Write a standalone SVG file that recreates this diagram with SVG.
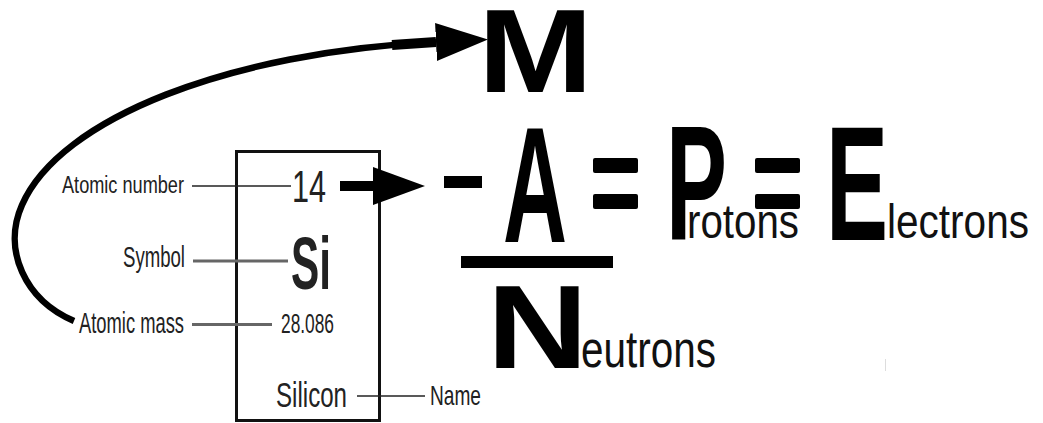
<svg xmlns="http://www.w3.org/2000/svg" width="1043" height="423" viewBox="0 0 1043 423">
<style>
.lbl{font-family:"Liberation Sans Narrow","Liberation Sans",Arial,sans-serif;fill:#222}
.big{font-family:"Liberation Sans",Arial,sans-serif;font-weight:bold;fill:#000}
.word{font-family:"Liberation Sans Narrow","Liberation Sans",Arial,sans-serif;fill:#111}
.lead{stroke:#222;stroke-width:1.6;fill:none}
.leadg{stroke:#666;stroke-width:3;fill:none}
.bar{fill:#000}
</style>
<defs>
<marker id="head" markerUnits="userSpaceOnUse" markerWidth="53" markerHeight="40" refX="0" refY="19" orient="auto" viewBox="0 0 53 40">
<path d="M0,0 L52,19 L0,38 Z" fill="#000"/>
</marker>
</defs>
<rect width="1043" height="423" fill="#fff"/>

<g id="element-box">
<rect x="236.5" y="151.5" width="143" height="269" fill="none" stroke="#111" stroke-width="3"/>
<text class="lbl" x="292" y="202" font-size="44" textLength="34" lengthAdjust="spacingAndGlyphs">14</text>
<text class="lbl" x="291" y="289" font-size="75" font-weight="bold" textLength="40" lengthAdjust="spacingAndGlyphs">Si</text>
<text class="lbl" x="281" y="333" font-size="28" textLength="53" lengthAdjust="spacingAndGlyphs">28.086</text>
<text class="lbl" x="276" y="407" font-size="35" textLength="71" lengthAdjust="spacingAndGlyphs">Silicon</text>
</g>

<g id="label-atomic-number"><text class="lbl" x="62" y="193" font-size="23" textLength="122" lengthAdjust="spacingAndGlyphs">Atomic number</text></g>
<g id="label-symbol"><text class="lbl" x="123" y="267" font-size="29" textLength="62" lengthAdjust="spacingAndGlyphs">Symbol</text></g>
<g id="label-atomic-mass"><text class="lbl" x="79" y="333" font-size="29" textLength="105" lengthAdjust="spacingAndGlyphs">Atomic mass</text></g>
<g id="label-name"><text class="lbl" x="430" y="405" font-size="28" textLength="51" lengthAdjust="spacingAndGlyphs">Name</text></g>

<g id="mass-M"><text class="big" x="478" y="92" font-size="119" textLength="115" lengthAdjust="spacingAndGlyphs">M</text></g>

<g id="formula-A">
<rect class="bar" x="444" y="176" width="38" height="12"/>
<text class="big" x="503" y="242" font-size="166" textLength="64" lengthAdjust="spacingAndGlyphs">A</text>
<rect class="bar" x="461" y="256" width="152" height="12"/>
</g>
<g id="equals-1">
<rect class="bar" x="593" y="158" width="45" height="15" rx="2"/>
<rect class="bar" x="593" y="194" width="45" height="15" rx="2"/>
</g>
<g id="protons">
<text class="big" x="666" y="240" font-size="163" textLength="61" lengthAdjust="spacingAndGlyphs">P</text>
<text class="word" x="687" y="238" font-size="48" textLength="112" lengthAdjust="spacingAndGlyphs">rotons</text>
</g>
<g id="equals-2">
<rect class="bar" x="755" y="158" width="45" height="15" rx="2"/>
<rect class="bar" x="755" y="194" width="45" height="15" rx="2"/>
</g>
<g id="electrons">
<text class="big" x="826" y="240" font-size="163" textLength="62" lengthAdjust="spacingAndGlyphs">E</text>
<text class="word" x="887" y="238" font-size="48" textLength="142" lengthAdjust="spacingAndGlyphs">lectrons</text>
</g>
<g id="neutrons">
<text class="big" x="487" y="368" font-size="119" textLength="101" lengthAdjust="spacingAndGlyphs">N</text>
<text class="word" x="581" y="367" font-size="52" textLength="135" lengthAdjust="spacingAndGlyphs">eutrons</text>
</g>

<g id="connectors">
<line class="lead" x1="192" y1="186" x2="291" y2="186"/>
<line class="leadg" x1="193" y1="261" x2="288" y2="261"/>
<line class="leadg" x1="192" y1="324.5" x2="272" y2="324.5" stroke-width="2.5"/>
<line class="lead" x1="357" y1="396" x2="425" y2="396"/>
<line x1="340" y1="186" x2="373" y2="186" stroke="#000" stroke-width="10" marker-end="url(#head)"/>
<path d="M74,321 C25,300 2,250 22,205 C60,118 230,52 436,42" fill="none" stroke="#000" stroke-width="6.5" marker-end="url(#head)"/>
<line x1="392" y1="45" x2="436" y2="42" stroke="#000" stroke-width="10"/>
<line x1="885.5" y1="359" x2="885.5" y2="371" stroke="#ddd" stroke-width="1"/>
</g>
</svg>
